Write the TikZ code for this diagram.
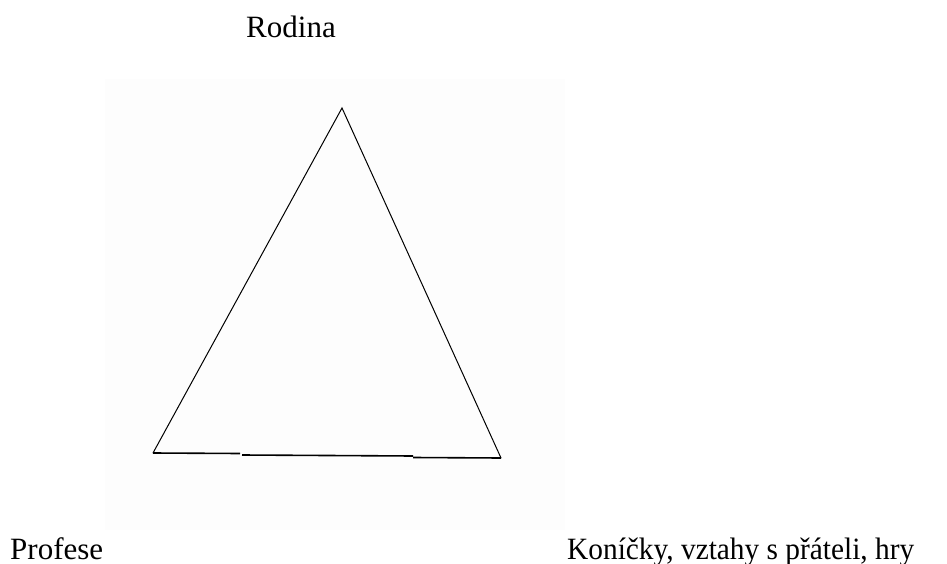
\documentclass[tikz,border=0pt]{standalone}
\usepackage{fontspec}
\setmainfont{Liberation Serif}
\begin{document}
\begin{tikzpicture}[x=1pt,y=-1pt,
  lbl/.style={inner sep=0pt,font=\fontsize{31}{31}\selectfont},
  side/.style={line width=1pt,black},
  basel/.style={line width=1.6pt,black}]
\useasboundingbox (0,0) rectangle (947,564);
\fill[black!0.7] (105,79) rectangle (565,530);
\coordinate (A) at (342,108);
\coordinate (B) at (153,453);
\coordinate (C) at (501,458);
\coordinate (b1) at (240,453.5);
\coordinate (b2) at (242,455);
\coordinate (b3) at (413,456);
\coordinate (b4) at (413,457.5);
\draw[side] (B) -- (A) -- (C);
\draw[basel] (B) -- (b1);
\draw[basel] (b2) -- (b3);
\draw[basel] (b4) -- (C);
\node[lbl,anchor=base] (rod) at (291,38) {Rodina};
\node[lbl,anchor=base west] (prof) at (10,559) {Profese};
\node[lbl,anchor=base west] (kon) at (567,559) {\scalebox{0.947}[1]{Koníčky, vztahy s přáteli, hry}};
\end{tikzpicture}
\end{document}
